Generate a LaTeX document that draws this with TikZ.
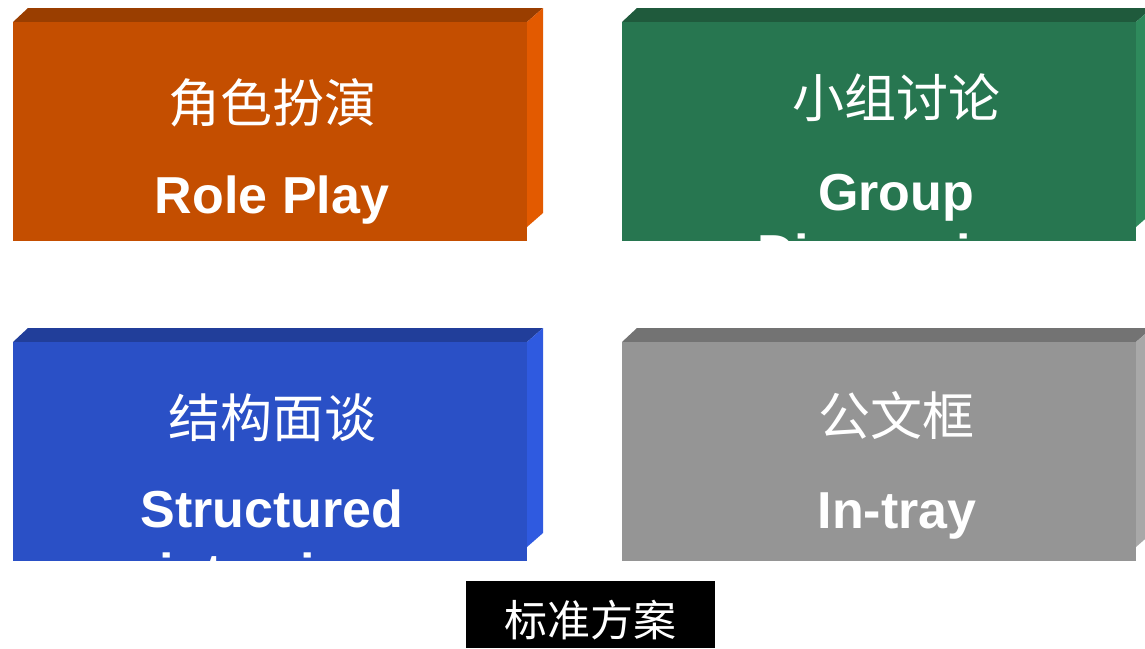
\documentclass[tikz,border=0pt]{standalone}
\usepackage{fontspec}
\setmainfont{Liberation Sans}
\newfontfamily\cjk{Noto Sans CJK SC}
\definecolor{orF}{HTML}{C44E00}
\definecolor{orT}{HTML}{9A3E00}
\definecolor{orS}{HTML}{E35A00}
\definecolor{grF}{HTML}{277650}
\definecolor{grT}{HTML}{1F5A3C}
\definecolor{grS}{HTML}{2E8A5C}
\definecolor{blF}{HTML}{2A50C6}
\definecolor{blT}{HTML}{213E9A}
\definecolor{blS}{HTML}{2F5AE0}
\definecolor{gyF}{HTML}{959595}
\definecolor{gyT}{HTML}{737373}
\definecolor{gyS}{HTML}{A8A8A8}
% #1 x, #2 y (top-left of front face), #3 front, #4 top, #5 side
\newcommand\threedbox[5]{%
  \fill[#4] (#1,#2) -- ++(15,-14) -- ++(515,0) -- ++(-16,14) -- cycle;
  \fill[#5] (#1+514,#2) -- ++(16,-14) -- ++(0,205) -- ++(-16,14) -- cycle;
  \fill[#3] (#1,#2) rectangle ++(514,219);
}
\begin{document}
\begin{tikzpicture}[x=1pt,y=-1pt,
  cn/.style={text=white,font=\cjk\fontsize{52}{60}\selectfont,anchor=base,inner sep=0pt},
  en/.style={text=white,font=\bfseries\fontsize{52}{60}\selectfont,anchor=base,inner sep=0pt}]
\useasboundingbox (0,0) rectangle (1145,648);
\clip (0,0) rectangle (1145,648);

\threedbox{13}{22}{orF}{orT}{orS}
\threedbox{622}{22}{grF}{grT}{grS}
\threedbox{13}{342}{blF}{blT}{blS}
\threedbox{622}{342}{gyF}{gyT}{gyS}

\begin{scope}
  \clip (13,22) rectangle ++(514,219);
  \node[cn] (rpcn) at (272,122) {角色扮演};
  \node[en] (rpen) at (272,213) {Role Play};
\end{scope}
\begin{scope}
  \clip (622,22) rectangle ++(514,219);
  \node[cn] (gdcn) at (896,117) {小组讨论};
  \node[en] (gden1) at (896,210) {Group};
  \node[en] (gden2) at (896,271) {Discussion};
\end{scope}
\begin{scope}
  \clip (13,342) rectangle ++(514,219);
  \node[cn] (sicn) at (272,437) {结构面谈};
  \node[en] (sien1) at (272,527) {Structured};
  \node[en] (sien2) at (272,590) {interview};
\end{scope}
\begin{scope}
  \clip (622,342) rectangle ++(514,219);
  \node[cn] (itcn) at (896,435) {公文框};
  \node[en] (iten) at (897,528) {In-tray};
\end{scope}

\fill[black] (466,581) rectangle (715,648);
\node[text=white,font=\cjk\fontsize{43}{50}\selectfont,anchor=base,inner sep=0pt] (std) at (590,636) {标准方案};
\end{tikzpicture}
\end{document}
